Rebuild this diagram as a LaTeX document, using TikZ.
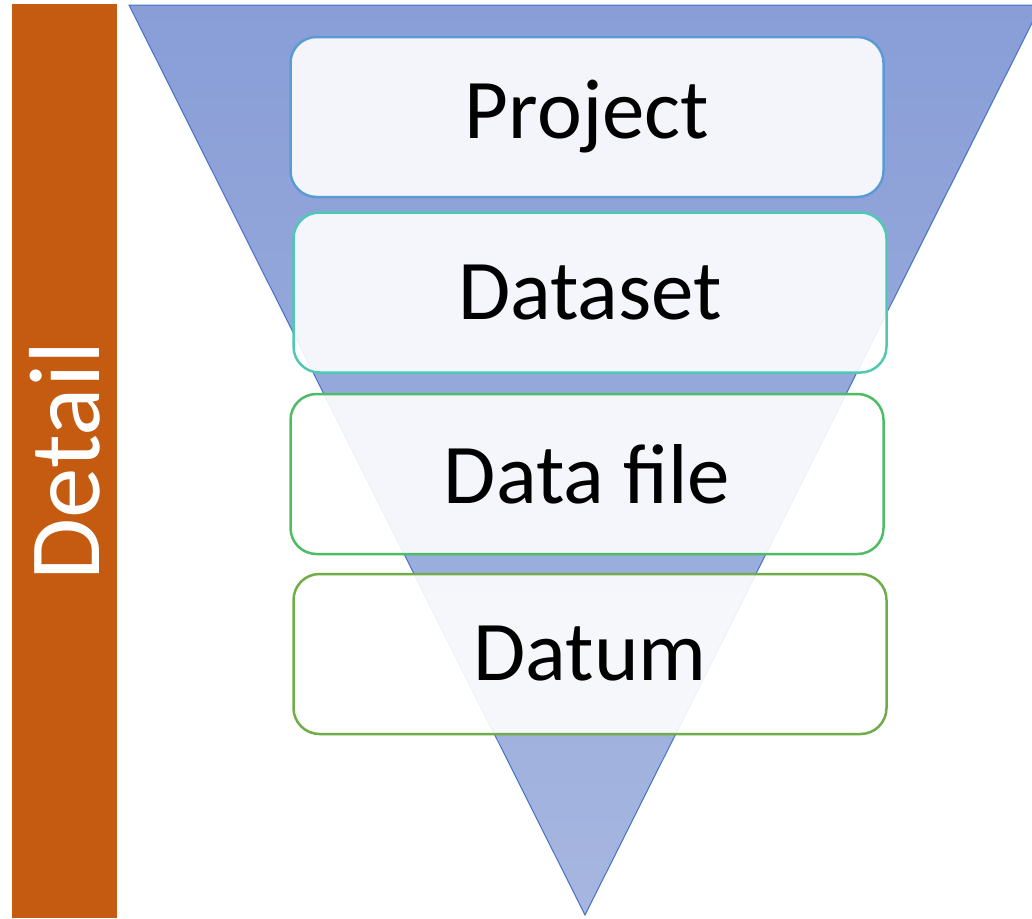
\documentclass[tikz,border=0pt]{standalone}
\usepackage{fontspec}
\setmainfont{Carlito}
\definecolor{barorange}{HTML}{C55A11}
\definecolor{triline}{HTML}{4472C4}
\definecolor{tritop}{HTML}{899ED7}
\definecolor{tribot}{HTML}{A6B6E0}
\definecolor{cproject}{HTML}{5B9BD5}
\definecolor{cdataset}{HTML}{4FC9B4}
\definecolor{cdatafile}{HTML}{4DBD65}
\definecolor{cdatum}{HTML}{70AD47}
\tikzset{
  levelbox/.style={draw, line width=2.5pt, rounded corners=26pt, fill=white, fill opacity=0.9, text opacity=1,
    minimum width=593pt, minimum height=160pt, inner sep=0pt, font=\fontsize{85}{92}\selectfont, text=black},
  detailtext/.style={font=\fontsize{101}{110}\selectfont, text=white, rotate=90, inner sep=0pt}
}
\begin{document}
\begin{tikzpicture}[x=1pt,y=-1pt]
\useasboundingbox (0,0) rectangle (1032,918);
\fill[white] (0,0) rectangle (1032,918);
\clip (0,0) rectangle (1032,918);
% orange bar
\fill[barorange] (12,4) rectangle (117,918);
\node[detailtext] (detail) at (65,461) {Detail};
% funnel triangle
\coordinate (tl) at (129,5);
\coordinate (tr) at (1041,5);
\coordinate (bt) at (585,915);
\shade[top color=tritop, bottom color=tribot] (tl) -- (tr) -- (bt) -- cycle;
\draw[triline, line width=1pt, line join=miter] (tl) -- (tr) -- (bt) -- cycle;
% boxes
\node[levelbox, draw=cproject] (project) at (587,117) {Project};
\node[levelbox, draw=cdataset] (dataset) at (590,292.5) {Dataset};
\node[levelbox, draw=cdatafile] (datafile) at (587,474) {Data file};
\node[levelbox, draw=cdatum] (datum) at (590,654) {Datum};
\end{tikzpicture}
\end{document}
